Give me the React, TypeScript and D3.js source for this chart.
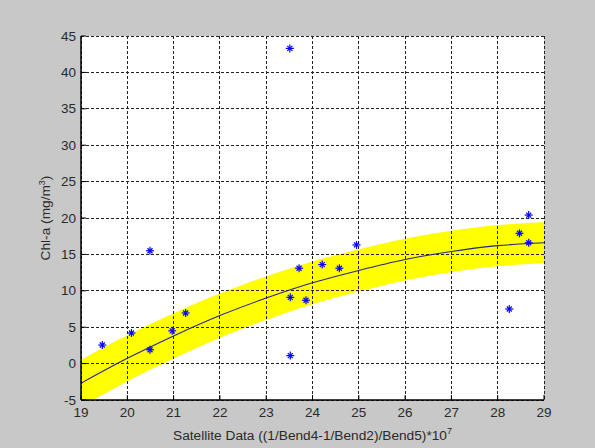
import React from "react";
import * as d3 from "d3";

const obsX = [19.46, 20.09, 20.49, 20.49, 20.97, 21.26, 23.51, 23.52, 23.52, 23.71, 23.86, 24.21, 24.58, 24.95, 28.25, 28.47, 28.67, 28.67];
const obsY = [2.55, 4.2, 15.5, 1.9, 4.5, 6.95, 43.3, 9.1, 1.1, 13.1, 8.7, 13.6, 13.1, 16.3, 7.5, 17.9, 16.6, 20.4];

const fitX = [19, 20, 21, 22, 23, 24, 25, 26, 27, 28, 29];
const fitY = [-2.7, 0.72, 3.8, 6.6, 9.0, 11.1, 12.8, 14.3, 15.4, 16.2, 16.6];

const xTicks = [19, 20, 21, 22, 23, 24, 25, 26, 27, 28, 29];
const yTicks = [-5, 0, 5, 10, 15, 20, 25, 30, 35, 40, 45];

const W = 595, H = 448;
const L = 81, R = 544, T = 36, B = 400;

export default function App() {
  const x = d3.scaleLinear().domain([19, 29]).range([L, R]);
  const y = d3.scaleLinear().domain([-5, 45]).range([B, T]);
  const fitPts: [number, number][] = fitX.map((v, i) => [v, fitY[i]]);
  const line = d3.line<[number, number]>().x(d => x(d[0])).y(d => y(d[1])).curve(d3.curveNatural);
  const path = line(fitPts) || "";
  const font = "Liberation Sans, Arial, sans-serif";
  const txt = "#2a2a2a";
  return (
    <div style={{ position: "fixed", left: 0, top: 0, width: W, height: H }}>
      <svg width={W} height={H} style={{ display: "block" }}>
        <defs>
          <clipPath id="plotclip">
            <rect x={L} y={T} width={R - L} height={B - T} />
          </clipPath>
        </defs>
        <rect x={0} y={0} width={W} height={H} fill="#c8c8c8" />
        <rect x={L} y={T} width={R - L} height={B - T} fill="#ffffff" />
        <g clipPath="url(#plotclip)">
          <path d={path} fill="none" stroke="#ffff00" strokeWidth={41} strokeLinecap="square" />
        </g>
        {xTicks.map(t => (
          <line key={"gx" + t} x1={x(t)} x2={x(t)} y1={T} y2={B} stroke="#222" strokeWidth={1} strokeDasharray="3,2" shapeRendering="crispEdges" />
        ))}
        {yTicks.map(t => (
          <line key={"gy" + t} x1={L} x2={R} y1={y(t)} y2={y(t)} stroke="#222" strokeWidth={1} strokeDasharray="3,2" shapeRendering="crispEdges" />
        ))}
        <g clipPath="url(#plotclip)">
          <path d={path} fill="none" stroke="#262680" strokeWidth={1.1} />
        </g>
        {obsX.map((v, i) => {
          const cx = x(v), cy = y(obsY[i]);
          return (
            <g key={"p" + i} stroke="#0000ff" strokeWidth={1.2}>
              <line x1={cx - 4} x2={cx + 4} y1={cy} y2={cy} />
              <line x1={cx} x2={cx} y1={cy - 4} y2={cy + 4} />
              <line x1={cx - 2.5} x2={cx + 2.5} y1={cy - 2.5} y2={cy + 2.5} />
              <line x1={cx - 2.5} x2={cx + 2.5} y1={cy + 2.5} y2={cy - 2.5} />
            </g>
          );
        })}
        <line x1={L} x2={R} y1={B} y2={B} stroke="#000" strokeWidth={1.5} />
        <line x1={L} x2={L} y1={T} y2={B} stroke="#000" strokeWidth={1.5} />
        {xTicks.map(t => (
          <line key={"tx" + t} x1={x(t)} x2={x(t)} y1={B} y2={B - 5} stroke="#000" strokeWidth={1} />
        ))}
        {yTicks.map(t => (
          <line key={"ty" + t} x1={L} x2={L + 5} y1={y(t)} y2={y(t)} stroke="#000" strokeWidth={1} />
        ))}
        {xTicks.map(t => (
          <text key={"lx" + t} x={x(t)} y={417} textAnchor="middle" fontFamily={font} fontSize={13.5} fill={txt}>{t}</text>
        ))}
        {yTicks.map(t => (
          <text key={"ly" + t} x={76} y={y(t) + 4.5} textAnchor="end" fontFamily={font} fontSize={13.5} fill={txt}>{t}</text>
        ))}
        <text x={(L + R) / 2} y={440} textAnchor="middle" fontFamily={font} fontSize={13.7} fill={txt}>
          Satellite Data ((1/Bend4-1/Bend2)/Bend5)*10<tspan dy={-6} fontSize={9}>7</tspan>
        </text>
        <text transform={`translate(50, ${(T + B) / 2}) rotate(-90)`} textAnchor="middle" fontFamily={font} fontSize={13.7} fill={txt}>
          Chl-a (mg/m<tspan dy={-5} fontSize={9}>3</tspan><tspan dy={5}>)</tspan>
        </text>
      </svg>
    </div>
  );
}
